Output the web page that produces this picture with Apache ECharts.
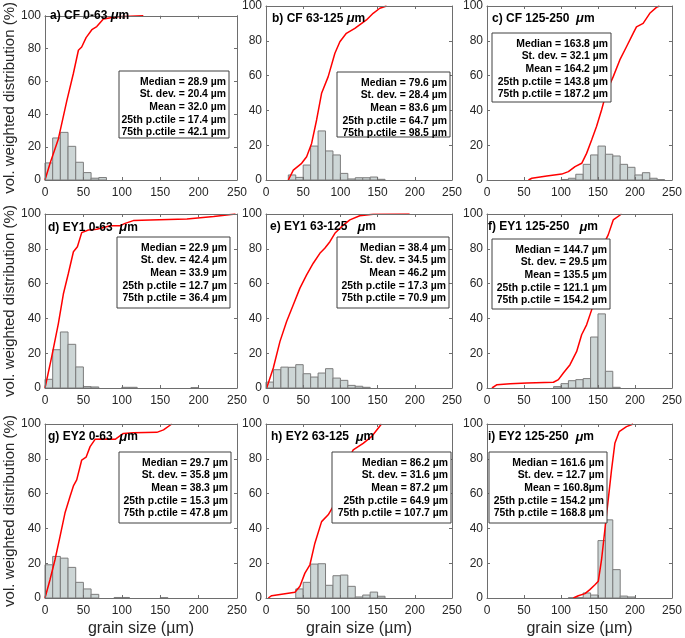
<!DOCTYPE html>
<html><head><meta charset="utf-8">
<script src="https://cdn.jsdelivr.net/npm/echarts@6/dist/echarts.min.js"></script>
<style>html,body{margin:0;padding:0;background:#fff}#c{width:685px;height:638px}</style>
</head><body><div id="c"></div>
<script>
// ---------- data ----------
const binWidth = 10; // µm, histogram bins start at 0
const xTicks = [0, 50, 100, 150, 200, 250];
const yTicks = [0, 20, 40, 60, 80, 100];

const histA = [10.4, 25.6, 29.0, 20.5, 10.8, 4.5, 1.1, 1.5];
const histB = [0, 0, 0, 2.9, 1.5, 8.6, 19.5, 28.2, 16.7, 14.4, 3.8, 0.6, 1.3, 1.3, 1.7, 0.4];
const histC = [0, 0, 0, 0, 0, 0, 0, 0, 0, 0, 0.3, 1.0, 3.3, 9.0, 14.4, 19.5, 14.8, 13.8, 9.0, 7.3, 2.9, 4.2, 1.0, 0.2];
const histD = [5.0, 22.0, 32.2, 25.1, 12.1, 0.8, 0.6, 0, 0, 0, 0.4, 0.4, 0, 0, 0, 0, 0, 0, 0, 0.2];
const histE = [3.4, 10.5, 12.0, 11.9, 13.4, 8.2, 6.3, 8.6, 11.1, 5.7, 4.4, 1.5, 1.0, 0.4];
const histF = [0, 0, 0, 0, 0, 0, 0, 0, 0, 0.8, 2.5, 4.2, 4.8, 5.4, 29.3, 42.6, 9.6, 0.4];
const histG = [19.1, 23.9, 22.9, 17.6, 9.0, 5.2, 2.1, 0, 0, 0.3, 0.3, 0, 0, 0, 0, 0.2];
const histH = [0, 0, 0, 0, 5.2, 9.0, 19.5, 19.7, 7.3, 12.8, 13.2, 6.7, 0.6, 1.7, 3.4, 1.0];
const histI = [0, 0, 0, 0, 0, 0, 0, 0, 0, 0, 0, 0.2, 0.2, 2.9, 1.7, 33.0, 44.9, 16.3, 1.1, 0.6];

const cumAx = [0, 6.5, 17.4, 28.3, 37, 43.5, 47.8, 53.5, 61, 67.4, 76, 93.5, 128];
const cumAy = [0, 10, 25, 48, 65, 79, 81, 86.7, 91.5, 93.4, 98, 99.4, 100];
const cumBx = [30, 36.7, 47.9, 54.6, 61.3, 68, 74.7, 83.6, 92.6, 99.3, 108, 119.4, 135, 144, 153, 162];
const cumBy = [0, 5.7, 9.6, 13.4, 21, 34.5, 49.8, 59.4, 72.8, 79.5, 84.3, 87.2, 92, 95.8, 98.7, 100];
const cumCx = [56, 60.6, 80.8, 101, 110, 119, 128, 134.6, 141.4, 148, 154.8, 161.6, 170.6, 179.5, 188.5, 197.5, 202, 211, 220, 229, 233];
const cumCy = [0, 1, 2.3, 3.4, 4.8, 7.7, 9.6, 15.3, 23, 30.7, 40.2, 50.8, 59.4, 69, 76.6, 84.3, 88, 90, 95.8, 99.2, 100];
const cumDx = [0, 8.7, 17.4, 23.9, 30.4, 37, 42.2, 47.8, 56.5, 67.4, 84.8, 97.8, 104.3, 115, 137, 184.8, 219.6, 248];
const cumDy = [0, 17.9, 37, 54, 65.8, 78.3, 81.2, 89.3, 90.8, 91.2, 93.3, 93.3, 94.6, 96.2, 96.5, 97.1, 98.5, 100];
const cumEx = [0.9, 9.8, 18.8, 27.7, 36.7, 45.6, 54.6, 63.5, 72.4, 79, 85.9, 92.6, 101.5, 112.7, 126, 144, 193];
const cumEy = [0, 11.5, 26.8, 38.2, 47.8, 57.4, 65, 71.7, 77.4, 80.3, 84.1, 88.9, 92.7, 96.6, 99, 99.8, 100];
const cumFx = [6.7, 13.5, 31.4, 53.9, 89.8, 96.5, 103.2, 112.2, 121.2, 127.9, 134.6, 141.4, 148, 152.6, 159.3, 163.8, 170.6, 181.8];
const cumFy = [0, 1.9, 2.5, 2.9, 3.3, 4.8, 8.6, 13.4, 21, 30.6, 36.3, 44.9, 55.4, 66.9, 84.1, 88, 96.6, 100];
const cumGx = [0, 6.5, 13, 19.6, 26, 32.6, 37, 41.3, 47.8, 53.5, 58.7, 65.2, 76, 91.3, 102, 115, 145.6, 154.3, 165];
const cumGy = [0, 10.5, 22, 35.4, 48.8, 58.3, 64.4, 67.9, 79.3, 80.9, 87, 91.2, 91.4, 91.2, 94.6, 95, 95.2, 96.6, 100];
const cumHx = [3.1, 7.6, 23.3, 38.9, 45.6, 52.3, 59, 65.7, 74.7, 83.6, 90.3, 99.3, 108.2, 117.2, 130.6, 141.8, 155.2];
const cumHy = [0, 1.3, 2.3, 3.3, 6.7, 14.3, 19.1, 31.5, 43.9, 47.8, 52.6, 67.9, 77.4, 85.1, 88.9, 92.7, 100];
const cumIx = [116.7, 123.4, 132.4, 139, 145.9, 150.4, 154.8, 159.3, 163.8, 168.3, 172.8, 178.6, 188.5, 197.5];
const cumIy = [0, 1.3, 2.5, 4.8, 7.6, 9.6, 22, 39.2, 56.4, 73.6, 88.9, 95.6, 98.5, 100];

const titlePrefixes = ['a) CF 0-63 ', 'b) CF 63-125 ', 'c) CF 125-250  ', 'd) EY1 0-63  ', 'e) EY1 63-125   ', 'f) EY1 125-250   ', 'g) EY2 0-63  ', 'h) EY2 63-125  ', 'i) EY2 125-250  '];

const statsA = ['Median = 28.9 µm', 'St. dev. = 20.4 µm', 'Mean = 32.0 µm', '25th p.ctile = 17.4 µm', '75th p.ctile = 42.1 µm'];
const statsB = ['Median = 79.6 µm', 'St. dev. = 28.4 µm', 'Mean = 83.6 µm', '25th p.ctile = 64.7 µm', '75th p.ctile = 98.5 µm'];
const statsC = ['Median = 163.8 µm', 'St. dev. = 32.1 µm', 'Mean = 164.2 µm', '25th p.ctile = 143.8 µm', '75th p.ctile = 187.2 µm'];
const statsD = ['Median = 22.9 µm', 'St. dev. = 42.4 µm', 'Mean = 33.9 µm', '25th p.ctile = 12.7 µm', '75th p.ctile = 36.4 µm'];
const statsE = ['Median = 38.4 µm', 'St. dev. = 34.5 µm', 'Mean = 46.2 µm', '25th p.ctile = 17.3 µm', '75th p.ctile = 70.9 µm'];
const statsF = ['Median = 144.7 µm', 'St. dev. = 29.5 µm', 'Mean = 135.5 µm', '25th p.ctile = 121.1 µm', '75th p.ctile = 154.2 µm'];
const statsG = ['Median = 29.7 µm', 'St. dev. = 35.8 µm', 'Mean = 38.3 µm', '25th p.ctile = 15.3 µm', '75th p.ctile = 47.8 µm'];
const statsH = ['Median = 86.2 µm', 'St. dev. = 31.6 µm', 'Mean = 87.2 µm', '25th p.ctile = 64.9 µm', '75th p.ctile = 107.7 µm'];
const statsI = ['Median = 161.6 µm', 'St. dev. = 12.7 µm', 'Mean = 160.8µm', '25th p.ctile = 154.2 µm', '75th p.ctile = 168.8 µm'];

const xName = 'grain size (µm)';
const yName = 'vol. weighted distribution (%)';

// ---------- layout & style ----------
const colLeft = [45, 266, 487], colW = [192, 186, 185];
const rowTop = [5, 214, 424], rowH = [175, 174, 174];
const titlePos = [[50, 17], [272, 20], [492, 20], [48, 229], [270, 228.5], [488, 228.5], [48, 438.5], [271, 438.5], [488, 438.5]];
const boxPos = [[119, 71, 229, 138], [337, 72, 450, 137], [492, 33, 611, 102],
                [117, 237, 230, 308], [337, 237, 449, 308], [492, 239, 610, 309],
                [119, 452, 231, 523], [332, 452, 451, 523], [489, 452, 607, 523]];
const FONT = '"Liberation Sans", Arial, Helvetica, sans-serif';
const frameColor = '#6e6e6e';
const txtColor = '#262626';
const barFill = '#cdd6d6', barEdge = '#7c7c7c', curveColor = '#ff0000';

const hists = [histA, histB, histC, histD, histE, histF, histG, histH, histI];
const cums = [[cumAx, cumAy], [cumBx, cumBy], [cumCx, cumCy], [cumDx, cumDy], [cumEx, cumEy], [cumFx, cumFy], [cumGx, cumGy], [cumHx, cumHy], [cumIx, cumIy]];
const stats = [statsA, statsB, statsC, statsD, statsE, statsF, statsG, statsH, statsI];

const grids = [], xAxes = [], yAxes = [], series = [], titles = [], graphics = [];

function renderBar(params, api) {
  const x0 = api.value(0), v = api.value(1);
  const p0 = api.coord([x0, 0]);
  const p1 = api.coord([x0 + binWidth, v]);
  return {
    type: 'rect',
    shape: { x: p0[0], y: p1[1], width: p1[0] - p0[0], height: p0[1] - p1[1] },
    style: { fill: barFill, stroke: barEdge, lineWidth: 1 }
  };
}

for (let i = 0; i < 9; i++) {
  const r = Math.floor(i / 3), c = i % 3;
  grids.push({ left: colLeft[c], top: rowTop[r], width: colW[c], height: rowH[r], containLabel: false });
  const axisLine = { show: true, onZero: false, lineStyle: { color: frameColor, width: 1 } };
  const tick = { show: true, inside: true, length: 3, lineStyle: { color: frameColor } };
  const common = { type: 'value', gridIndex: i, splitLine: { show: false }, axisLine: axisLine, axisTick: tick, z: 10 };
  xAxes.push(Object.assign({}, common, {
    position: 'bottom', min: xTicks[0], max: xTicks[xTicks.length - 1], interval: xTicks[1] - xTicks[0],
    axisLabel: { fontSize: 12, color: txtColor, margin: 7, fontFamily: FONT },
    name: r === 2 ? xName : '', nameLocation: 'middle', nameGap: 23,
    nameTextStyle: { fontSize: 16, color: txtColor, fontFamily: FONT }
  }));
  xAxes.push(Object.assign({}, common, {
    position: 'top', min: xTicks[0], max: xTicks[xTicks.length - 1], interval: xTicks[1] - xTicks[0],
    axisLabel: { show: false }
  }));
  yAxes.push(Object.assign({}, common, {
    position: 'left', min: yTicks[0], max: yTicks[yTicks.length - 1], interval: yTicks[1] - yTicks[0],
    axisLabel: { fontSize: 12, color: txtColor, margin: 4, fontFamily: FONT },
    name: c === 0 ? yName : '', nameLocation: 'middle', nameGap: 28,
    nameTextStyle: { fontSize: 15, color: txtColor, fontFamily: FONT }
  }));
  yAxes.push(Object.assign({}, common, {
    position: 'right', min: yTicks[0], max: yTicks[yTicks.length - 1], interval: yTicks[1] - yTicks[0],
    axisLabel: { show: false }
  }));

  const barData = [];
  hists[i].forEach((v, k) => { if (v > 0) barData.push([k * binWidth, v]); });
  series.push({ type: 'custom', xAxisIndex: 2 * i, yAxisIndex: 2 * i, renderItem: renderBar, data: barData, z: 2, silent: true });
  const cx = cums[i][0], cy = cums[i][1];
  series.push({
    type: 'line', xAxisIndex: 2 * i, yAxisIndex: 2 * i, data: cx.map((x, k) => [x, cy[k]]),
    symbol: 'none', lineStyle: { color: curveColor, width: 1.5 }, z: 3, silent: true
  });

  titles.push({
    text: '{b|' + titlePrefixes[i] + '}{mu|μ}{b|m}', left: titlePos[i][0], top: titlePos[i][1] - 8, padding: 0, z: 20,
    textStyle: { rich: {
      b: { fontSize: 12, fontWeight: 'bold', fontFamily: FONT, color: '#000' },
      mu: { fontSize: 13, fontStyle: 'italic', fontFamily: FONT, color: '#000' }
    } }
  });

  const [L, T, R, B] = boxPos[i];
  graphics.push({ type: 'rect', shape: { x: L, y: T, width: R - L, height: B - T }, style: { fill: '#fff', stroke: '#404040', lineWidth: 1 }, z: 100 });
  stats[i].forEach((t, k) => {
    graphics.push({
      type: 'text', x: R - 3, y: T + 11 + 12.6 * k, z: 101,
      style: { text: t, textAlign: 'right', align: 'right', textVerticalAlign: 'middle', verticalAlign: 'middle',
               fontSize: 10.4, fontWeight: 'bold', fontFamily: FONT, fill: '#000' }
    });
  });
}

const chart = echarts.init(document.getElementById('c'), null, { renderer: 'canvas' });
chart.setOption({
  animation: false,
  backgroundColor: '#fff',
  title: titles,
  grid: grids,
  xAxis: xAxes,
  yAxis: yAxes,
  series: series,
  graphic: graphics
});
</script></body></html>
